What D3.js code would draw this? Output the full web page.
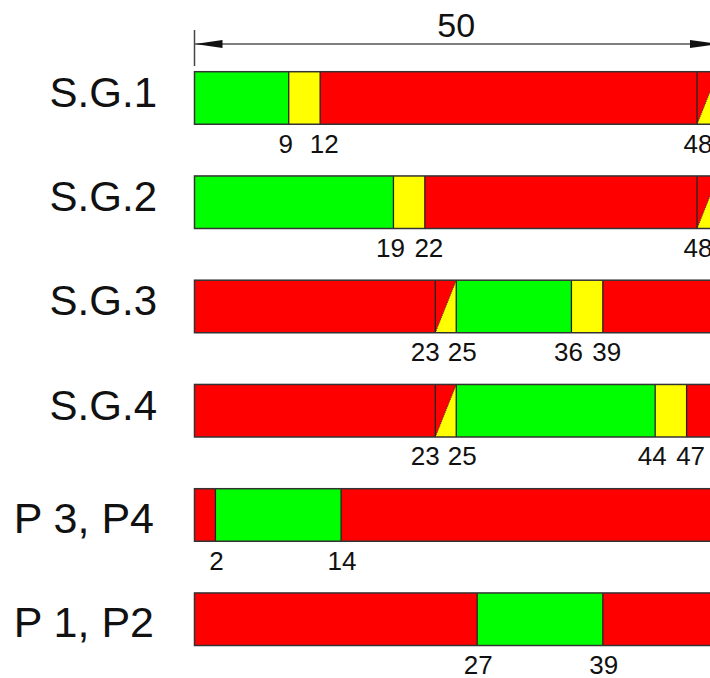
<!DOCTYPE html>
<meta charset="utf-8">
<style>
body { margin: 0; background: #fff; }
svg { display: block; overflow: hidden; }
text { font-family: "Liberation Sans", Arial, sans-serif; fill: #111; }
.bar-outline { fill: none; stroke: #333; stroke-width: 1.5px; }
.divider { stroke: #222; stroke-width: 1.3px; }
</style>
<svg width="710" height="678"></svg>
<script src="https://cdn.jsdelivr.net/npm/d3@7"></script>
<script>

// signal groups, top to bottom
var rowLabels = ["S.G.1", "S.G.2", "S.G.3", "S.G.4", "P 3, P4", "P 1, P2"];
var cycleLength = 50;

// phase kinds: g = green, y = yellow, r = red, ry = red / amber change
var phaseKinds = [
  ["g", "y", "r", "ry"],
  ["g", "y", "r", "ry"],
  ["r", "ry", "g", "y", "r"],
  ["r", "ry", "g", "y", "r"],
  ["r", "g", "r"],
  ["r", "g", "r"]
];
// where each phase starts (seconds into the cycle)
var phaseStarts = [
  [0, 9, 12, 48],
  [0, 19, 22, 48],
  [0, 23, 25, 36, 39],
  [0, 23, 25, 44, 47],
  [0, 2, 14],
  [0, 27, 39]
];

var colours = { g: "#00ff00", y: "#ffff00", r: "#ff0000" };

var svg = d3.select("svg");

var x = d3.scaleLinear()
    .domain([0, cycleLength])
    .range([194.5, 718]);

var y = d3.scaleBand()
    .domain(rowLabels)
    .range([71.7, 645.5])
    .paddingInner(0.496)
    .paddingOuter(0);

var bh = y.bandwidth();

//cycle length dimension on top
var defs = svg.append("defs");
defs.append("marker")
    .attr("id", "arrow")
    .attr("viewBox", "0 0 28 10")
    .attr("refX", 28).attr("refY", 5)
    .attr("markerUnits", "userSpaceOnUse")
    .attr("markerWidth", 28).attr("markerHeight", 10)
    .attr("orient", "auto-start-reverse")
    .append("path")
    .attr("d", "M0,1 L28,5 L0,9 Z")
    .attr("fill", "#111");

var dim = svg.append("g").attr("class", "dimension");
dim.append("line")
    .attr("x1", x(0)).attr("x2", x(0))
    .attr("y1", 30).attr("y2", 66)
    .attr("stroke", "#444").attr("stroke-width", 1.5);
dim.append("line")
    .attr("x1", x(0)).attr("x2", x(cycleLength))
    .attr("y1", 44).attr("y2", 44)
    .attr("stroke", "#555").attr("stroke-width", 1.6)
    .attr("marker-start", "url(#arrow)")
    .attr("marker-end", "url(#arrow)");
dim.append("text")
    .attr("x", (x(0) + x(cycleLength)) / 2)
    .attr("y", 36.5)
    .attr("text-anchor", "middle")
    .style("font-size", "34px")
    .text(cycleLength);

// build rows
var rows = rowLabels.map(function(name, i) {
  var starts = phaseStarts[i];
  var segs = phaseKinds[i].map(function(k, j) {
    return { kind: k, start: starts[j], end: j + 1 < starts.length ? starts[j + 1] : cycleLength };
  });
  return { name: name, segs: segs, marks: starts.slice(1) };
});

var row = svg.selectAll("g.row")
    .data(rows)
    .enter().append("g")
    .attr("class", "row")
    .attr("transform", function(d) { return "translate(0," + y(d.name) + ")"; });

row.selectAll("rect.seg")
    .data(function(d) { return d.segs; })
    .enter().append("rect")
    .attr("class", "seg")
    .attr("x", function(d) { return x(d.start); })
    .attr("width", function(d) { return x(d.end) - x(d.start); })
    .attr("y", 0)
    .attr("height", bh)
    .attr("fill", function(d) { return d.kind == "g" ? colours.g : d.kind == "y" ? colours.y : colours.r; });

// red/amber: yellow triangle in the lower right half
var ry = row.selectAll("g.ry")
    .data(function(d) { return d.segs.filter(function(s) { return s.kind == "ry"; }); })
    .enter().append("g").attr("class", "ry");
ry.append("path")
    .attr("d", function(d) {
      return "M" + x(d.start) + "," + bh + "L" + x(d.end) + "," + bh + "L" + x(d.end) + ",0Z";
    })
    .attr("fill", colours.y);
ry.append("line")
    .attr("x1", function(d) { return x(d.start); }).attr("y1", bh)
    .attr("x2", function(d) { return x(d.end); }).attr("y2", 0)
    .attr("stroke", "#333").attr("stroke-width", 1)
    .attr("stroke-dasharray", "1,1");

row.selectAll("line.divider")
    .data(function(d) { return d.marks; })
    .enter().append("line")
    .attr("class", "divider")
    .attr("x1", function(d) { return x(d); }).attr("x2", function(d) { return x(d); })
    .attr("y1", 0).attr("y2", bh);

row.append("rect")
    .attr("class", "bar-outline")
    .attr("x", x(0))
    .attr("width", x(cycleLength) - x(0))
    .attr("y", 0)
    .attr("height", bh);

// change times under the bar, pushed apart when two are close
function nudge(gap, before) {
  if (gap === undefined) return 0;
  if (gap <= 2) return before ? -11 : 5;
  if (gap <= 3) return before ? -4 : 3;
  return 0;
}

row.selectAll("text.mark")
    .data(function(d) {
      return d.marks.map(function(m, j) {
        var prev = d.marks[j - 1], next = d.marks[j + 1];
        var dx = nudge(next === undefined ? undefined : next - m, true) +
                 nudge(prev === undefined ? undefined : m - prev, false);
        return { v: m, dx: dx };
      });
    })
    .enter().append("text")
    .attr("class", "mark")
    .attr("x", function(d) { return x(d.v) + d.dx + 1; })
    .attr("y", bh + 28.5)
    .attr("text-anchor", "middle")
    .style("font-size", "26px")
    .text(function(d) { return d.v; });

row.append("text")
    .attr("class", "row-label")
    .attr("x", function(d) { return d.name.indexOf("P") == 0 ? 154 : 157; })
    .attr("y", function(d) { return d.name.indexOf("P") == 0 ? bh / 2 + 18 : bh / 2 + 9; })
    .attr("text-anchor", "end")
    .style("font-size", function(d) { return d.name.indexOf("P") == 0 ? "43px" : "42px"; })
    .text(function(d) { return d.name; });

</script>
